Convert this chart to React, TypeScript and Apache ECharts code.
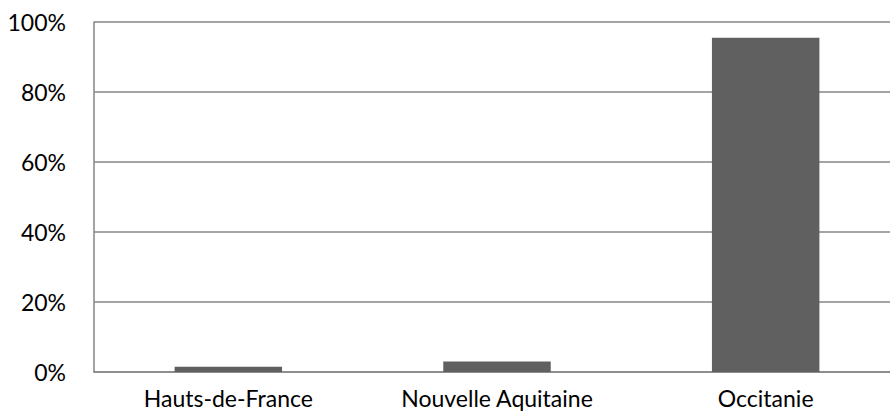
import React, { useEffect, useRef } from "react";
import * as echarts from "echarts";

const categories = ["Hauts-de-France", "Nouvelle Aquitaine", "Occitanie"];
const values = [1.5, 3, 95.5];
const yTicks = [0, 20, 40, 60, 80, 100];

export default function App() {
  const ref = useRef<HTMLDivElement>(null);
  useEffect(() => {
    if (!ref.current) return;
    const chart = echarts.init(ref.current, null, { renderer: "svg" });
    chart.setOption({
      animation: false,
      textStyle: { fontFamily: "Lato" },
      grid: { left: 94, right: 0, top: 22, bottom: 47, containLabel: false },
      xAxis: {
        type: "category",
        data: categories,
        axisLine: { show: true, lineStyle: { color: "#868686", width: 1.5 } },
        axisTick: { show: false },
        axisLabel: { color: "#000", fontSize: 23, margin: 14, fontFamily: "Lato" },
      },
      yAxis: {
        type: "value",
        min: yTicks[0],
        max: yTicks[yTicks.length - 1],
        interval: 20,
        axisLine: { show: true, lineStyle: { color: "#868686", width: 1.5 } },
        axisTick: { show: false },
        splitLine: { show: true, lineStyle: { color: "#868686", width: 1.5 } },
        axisLabel: {
          color: "#000",
          fontSize: 23,
          margin: 28,
          fontFamily: "Lato",
          formatter: (v: number) => `${v}%`,
        },
      },
      series: [
        {
          type: "bar",
          data: values,
          barWidth: "40%",
          itemStyle: { color: "#606060" },
        },
      ],
    });
    return () => chart.dispose();
  }, []);
  return (
    <div
      style={{ position: "fixed", left: 0, top: 0, width: 890, height: 419, background: "#fff", overflow: "hidden" }}
    >
      <div ref={ref} style={{ width: 900, height: 419 }} />
    </div>
  );
}
